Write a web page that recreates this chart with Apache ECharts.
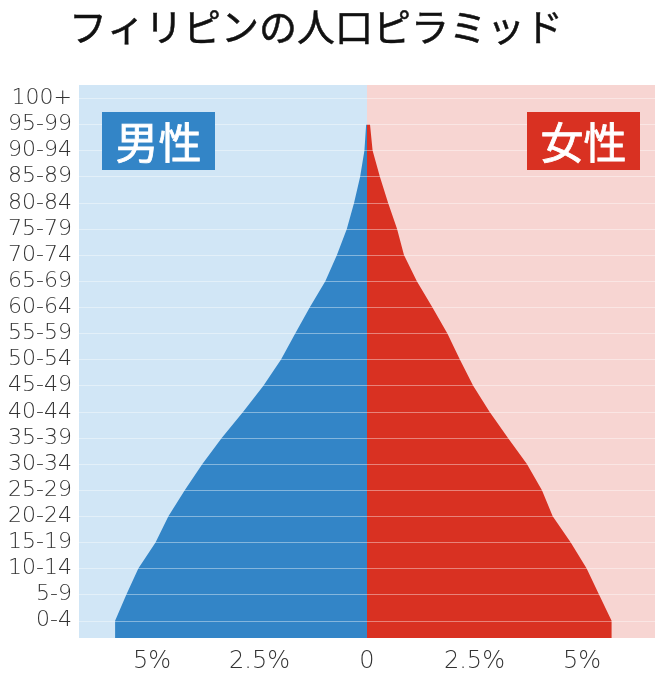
<!DOCTYPE html>
<html>
<head>
<meta charset="utf-8">
<script src="https://cdn.jsdelivr.net/npm/echarts@6/dist/echarts.min.js"></script>
<style>
html, body { margin: 0; padding: 0; background: #fff; }
#main { width: 658px; height: 680px; }
</style>
</head>
<body>
<div id="main"></div>
<script>
// 年齢階級（下から上へ）
const ageGroups = [
    '0-4', '5-9', '10-14', '15-19', '20-24', '25-29', '30-34', '35-39',
    '40-44', '45-49', '50-54', '55-59', '60-64', '65-69', '70-74', '75-79',
    '80-84', '85-89', '90-94', '95-99', '100+'
];

// 人口比率（%） 0-4 から 95-99 まで
const maleShare = [
    5.86, 5.60, 5.32, 4.92, 4.62, 4.24, 3.83, 3.38, 2.88, 2.41,
    2.00, 1.67, 1.33, 0.97, 0.70, 0.47, 0.30, 0.16, 0.06, 0.02
];
const femaleShare = [
    5.69, 5.40, 5.11, 4.74, 4.32, 4.07, 3.72, 3.28, 2.85, 2.47,
    2.16, 1.87, 1.52, 1.16, 0.86, 0.70, 0.49, 0.30, 0.13, 0.07
];

// 横軸の目盛り
const xTicks = [-5, -2.5, 0, 2.5, 5];

const X_EXTENT = 6.7;
const Y_MIN = -0.66;
const Y_MAX = 20.51;

const colors = {
    male: '#3385c7',
    female: '#d93122',
    maleBg: '#d1e6f6',
    femaleBg: '#f7d5d2',
    label: '#333'
};

// 片側のピラミッドを一つの多角形として描く
function pyramidSeries(name, values, sign, color) {
    return {
        name: name,
        type: 'custom',
        coordinateSystem: 'cartesian2d',
        silent: true,
        z: 2,
        data: values.map((v, i) => [sign * v, i]),
        renderItem: function (params, api) {
            if (params.dataIndex !== 0) return null;
            const last = values.length - 1;
            const pts = [];
            pts.push(api.coord([0, Y_MIN]));
            pts.push(api.coord([sign * values[0], Y_MIN]));
            values.forEach((v, i) => pts.push(api.coord([sign * v, i])));
            pts.push(api.coord([0, last]));
            return {
                type: 'polygon',
                shape: { points: pts },
                style: { fill: color }
            };
        }
    };
}

// 「男性」「女性」の見出し
function genderBox(x, text, color) {
    return {
        type: 'group',
        x: x,
        y: 112,
        z: 100,
        children: [
            { type: 'rect', z: 100, shape: { x: 0, y: 0, width: 113, height: 58 }, style: { fill: color } },
            {
                type: 'text', z: 101, x: 56.5, y: 31,
                style: {
                    text: text, fill: '#fff', font: 'normal 43px "Noto Sans CJK JP"',
                    stroke: '#fff', lineWidth: 0.8,
                    align: 'center', verticalAlign: 'middle'
                }
            }
        ]
    };
}

const chart = echarts.init(document.getElementById('main'));
chart.setOption({
    animation: false,
    title: {
        text: 'フィリピンの人口ピラミッド',
        left: 64,
        top: 3,
        textStyle: {
            fontSize: 38, fontWeight: 'normal', color: '#111', fontFamily: 'Noto Sans CJK JP',
            textBorderColor: '#111', textBorderWidth: 0.5
        }
    },
    grid: { left: 79, right: 3, top: 85, bottom: 42 },
    xAxis: {
        type: 'value',
        min: -X_EXTENT,
        max: X_EXTENT,
        axisLine: { show: false },
        axisTick: { show: false },
        splitLine: { show: false },
        axisLabel: {
            customValues: xTicks,
            margin: 12,
            fontSize: 24,
            fontWeight: 300,
            color: colors.label,
            fontFamily: 'DejaVu Sans',
            formatter: v => v === 0 ? '0' : Math.abs(v) + '%'
        }
    },
    yAxis: {
        type: 'value',
        min: Y_MIN,
        max: Y_MAX,
        axisLine: { show: false },
        axisTick: { show: false },
        splitLine: { show: false },
        axisLabel: {
            customValues: ageGroups.map((_, i) => i),
            margin: 7,
            fontSize: 22,
            fontWeight: 300,
            color: colors.label,
            fontFamily: 'DejaVu Sans',
            formatter: v => ageGroups[Math.round(v)]
        }
    },
    series: [
        {
            type: 'line',
            data: [],
            silent: true,
            markArea: {
                silent: true,
                data: [
                    [{ xAxis: -X_EXTENT, yAxis: Y_MIN, itemStyle: { color: colors.maleBg } }, { xAxis: 0, yAxis: Y_MAX }],
                    [{ xAxis: 0, yAxis: Y_MIN, itemStyle: { color: colors.femaleBg } }, { xAxis: X_EXTENT, yAxis: Y_MAX }]
                ]
            },
            markLine: {
                silent: true,
                symbol: 'none',
                label: { show: false },
                lineStyle: { color: 'rgba(255,255,255,0.4)', width: 1, type: 'solid' },
                data: ageGroups.map((_, i) => ({ yAxis: i }))
            }
        },
        pyramidSeries('男性', maleShare, -1, colors.male),
        pyramidSeries('女性', femaleShare, 1, colors.female)
    ],
    graphic: [
        genderBox(102, '男性', colors.male),
        genderBox(527, '女性', colors.female)
    ]
});
</script>
</body>
</html>
